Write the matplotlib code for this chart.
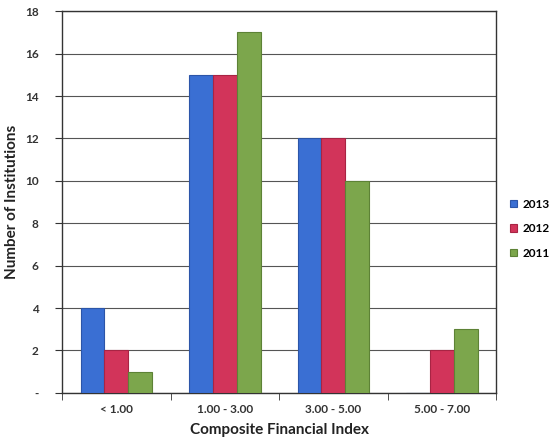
import numpy as np
import matplotlib.pyplot as plt

# Composite Financial Index distribution by year
categories = ["< 1.00", "1.00 - 3.00", "3.00 - 5.00", "5.00 - 7.00"]
years = ["2013", "2012", "2011"]
counts_2013 = [4, 15, 12, 0]
counts_2012 = [2, 15, 12, 2]
counts_2011 = [1, 17, 10, 3]
y_ticks = [0, 2, 4, 6, 8, 10, 12, 14, 16, 18]
y_tick_labels = ["-", "2", "4", "6", "8", "10", "12", "14", "16", "18"]

colors = ["#3a6fd3", "#d2345a", "#7ca64c"]
edges = ["#2c55a8", "#a82444", "#5d8236"]

plt.rcParams['font.family'] = ['Lato', 'DejaVu Sans']

fig = plt.figure(figsize=(5.55, 4.47), dpi=100)
ax = fig.add_axes([0.112, 0.121, 0.782, 0.854])

x = np.arange(len(categories))
width = 0.22
series = [counts_2013, counts_2012, counts_2011]
for i, (vals, year) in enumerate(zip(series, years)):
    ax.bar(x + (i - 1) * width, vals, width, color=colors[i], edgecolor=edges[i],
           linewidth=0.8, label=year, zorder=3)

ax.set_xlim(-0.5, len(categories) - 0.5)
ax.set_ylim(0, 18)
ax.set_yticks(y_ticks)
ax.set_yticklabels(y_tick_labels, fontsize=8.5, fontweight='bold', color='#333333')
ax.set_xticks(x)
ax.set_xticklabels(categories, fontsize=8.5, fontweight='bold', color='#333333')
ax.tick_params(axis='x', length=0, pad=8)
ax.set_xticks(np.arange(len(categories) + 1) - 0.5, minor=True)
ax.tick_params(axis='x', which='minor', length=5, direction='out', color='#333333')
ax.tick_params(axis='y', length=5, direction='out', color='#333333', pad=12)

ax.grid(axis='y', color='#555555', linewidth=0.8, zorder=0)
for s in ax.spines.values():
    s.set_color('#333333')
    s.set_linewidth(1.0)

ax.set_xlabel("Composite Financial Index", fontsize=11, fontweight='bold',
              color='#222222', labelpad=6)
ax.set_ylabel("Number of Institutions", fontsize=11, fontweight='bold',
              color='#222222', labelpad=4)

ax.legend(loc='center left', bbox_to_anchor=(1.0, 0.43), frameon=False,
          handlelength=0.6, handleheight=0.6, handletextpad=0.4,
          labelspacing=1.15, borderaxespad=0.8,
          prop={'weight': 'bold', 'size': 8.5})

fig.savefig("out.png", dpi=100)
